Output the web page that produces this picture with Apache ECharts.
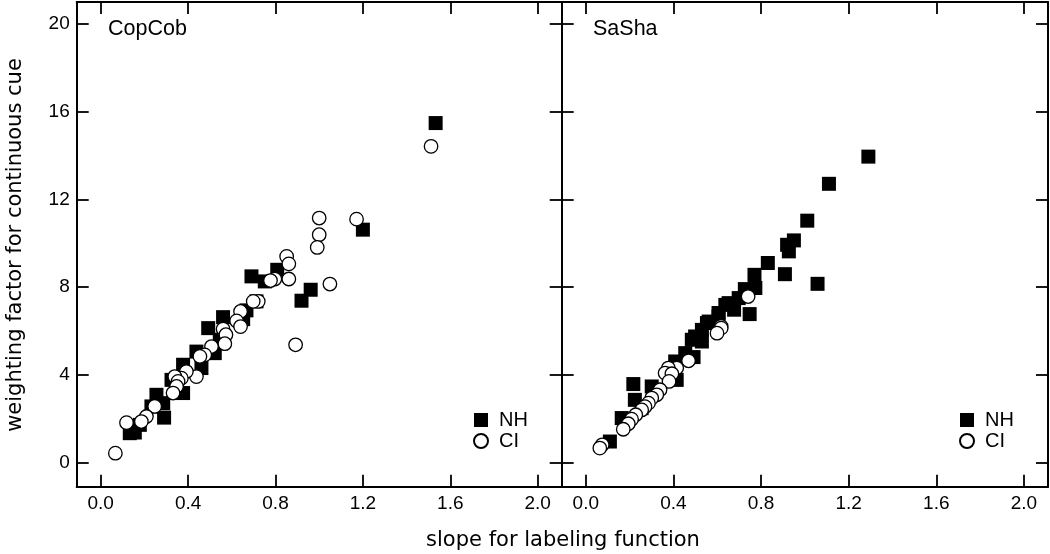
<!DOCTYPE html>
<html>
<head>
<meta charset="utf-8">
<script src="https://cdn.jsdelivr.net/npm/echarts@6/dist/echarts.min.js"></script>
<style>html,body{margin:0;padding:0;background:#fff}#c{width:1050px;height:554px}</style>
</head>
<body>
<div id="c"></div>
<script>
var xTicks = [0, 0.4, 0.8, 1.2, 1.6, 2.0];
var yTicks = [0, 4, 8, 12, 16, 20];
var panelNames = ['CopCob', 'SaSha'];
var seriesNames = ['NH', 'CI'];
var xTitle = 'slope for labeling function';
var yTitle = 'weighting factor for continuous cue';

var copcobNH = [[1.533,15.48],[1.20,10.62],[0.808,8.79],[0.69,8.49],[0.751,8.26],[0.961,7.88],[0.919,7.38],[0.713,7.35],[0.667,6.94],[0.652,6.54],[0.560,6.63],[0.492,6.13],[0.545,5.60],[0.438,5.06],[0.522,4.99],[0.461,4.31],[0.377,4.46],[0.324,3.77],[0.377,3.17],[0.255,3.09],[0.286,2.71],[0.232,2.56],[0.29,2.05],[0.179,1.72],[0.133,1.34],[0.156,1.37]];
var copcobCI = [[1.512,14.42],[1.0,11.15],[1.171,11.10],[1.0,10.39],[0.991,9.81],[0.851,9.40],[0.861,9.06],[0.797,8.37],[0.777,8.30],[0.861,8.37],[1.049,8.14],[0.721,7.35],[0.698,7.35],[0.892,5.37],[0.64,6.89],[0.622,6.46],[0.640,6.20],[0.560,6.09],[0.573,5.83],[0.568,5.42],[0.507,5.29],[0.476,4.91],[0.454,4.84],[0.438,3.92],[0.392,4.15],[0.369,3.85],[0.339,3.92],[0.354,3.70],[0.347,3.47],[0.331,3.17],[0.247,2.56],[0.209,2.10],[0.186,1.87],[0.118,1.82],[0.067,0.43]];
var sashaNH = [[1.29,13.95],[1.110,12.71],[1.011,11.03],[0.950,10.13],[0.919,9.93],[0.927,9.63],[0.831,9.10],[0.909,8.59],[1.058,8.15],[0.770,8.56],[0.774,7.96],[0.726,7.91],[0.698,7.50],[0.748,6.77],[0.637,7.19],[0.677,6.97],[0.606,6.82],[0.553,6.36],[0.652,7.27],[0.606,6.66],[0.561,6.43],[0.530,6.05],[0.499,5.75],[0.530,5.52],[0.484,5.60],[0.454,4.99],[0.492,4.81],[0.408,4.61],[0.415,3.77],[0.217,3.58],[0.301,3.47],[0.224,2.86],[0.255,2.48],[0.164,2.03],[0.110,0.96]];
var sashaCI = [[0.741,7.57],[0.618,6.21],[0.618,6.13],[0.599,5.90],[0.469,4.64],[0.415,4.31],[0.377,4.31],[0.362,4.08],[0.393,4.05],[0.380,3.70],[0.339,3.32],[0.324,3.09],[0.301,2.94],[0.286,2.71],[0.270,2.55],[0.255,2.40],[0.228,2.18],[0.209,1.98],[0.194,1.77],[0.171,1.52],[0.075,0.81],[0.064,0.66]];

var FONT = 'Liberation Sans';
var XMIN = -0.11, XMAX = 2.11, YMIN = -1.1, YMAX = 21.0;
var lineStyle = {color: '#000', width: 2};
var tickStyle = {color: '#000', width: 1.8};

function xAx(grid, pos, labels) {
  return {
    type: 'value', gridIndex: grid, position: pos, min: XMIN, max: XMAX,
    axisLine: {show: true, onZero: false, lineStyle: lineStyle},
    axisTick: {show: true, inside: true, length: 12, lineStyle: tickStyle, customValues: xTicks},
    axisLabel: {show: labels, customValues: xTicks, margin: 8, color: '#000', fontFamily: FONT, fontSize: 19,
      formatter: function (v) { return v.toFixed(1); }},
    splitLine: {show: false}
  };
}
function yAx(grid, pos, labels) {
  return {
    type: 'value', gridIndex: grid, position: pos, min: YMIN, max: YMAX,
    axisLine: {show: true, onZero: false, lineStyle: lineStyle},
    axisTick: {show: true, inside: true, length: 12, lineStyle: tickStyle, customValues: yTicks},
    axisLabel: {show: labels, customValues: yTicks, margin: 7, color: '#000', fontFamily: FONT, fontSize: 19},
    splitLine: {show: false}
  };
}
function sq(name, x, y, data) {
  return {type: 'scatter', name: name, xAxisIndex: x, yAxisIndex: y, data: data, symbol: 'rect', symbolSize: 14,
    itemStyle: {color: '#000', opacity: 1}, emphasis: {disabled: true}, z: 2};
}
function ci(name, x, y, data) {
  return {type: 'scatter', name: name, xAxisIndex: x, yAxisIndex: y, data: data, symbol: 'circle', symbolSize: 13.5,
    itemStyle: {color: '#fff', borderColor: '#000', borderWidth: 1.3, opacity: 1}, emphasis: {disabled: true}, z: 3};
}
function legend(left) {
  return {show: true, orient: 'vertical', left: left, top: 410, padding: 0, itemGap: 1, itemWidth: 14, itemHeight: 14,
    data: seriesNames, selectedMode: false,
    textStyle: {color: '#000', fontFamily: FONT, fontSize: 20, padding: [0, 0, 0, 6]}};
}

var chart = echarts.init(document.getElementById('c'), null, {renderer: 'canvas'});
chart.setOption({
  animation: false,
  backgroundColor: '#fff',
  grid: [
    {left: 76.7, right: 488.3, top: 2, bottom: 67.3},
    {left: 561.7, right: 2, top: 2, bottom: 67.3}
  ],
  xAxis: [xAx(0, 'bottom', true), xAx(0, 'top', false), xAx(1, 'bottom', true), xAx(1, 'top', false)],
  yAxis: [yAx(0, 'left', true), yAx(0, 'right', false), yAx(1, 'left', false), yAx(1, 'right', false)],
  legend: [legend(473), legend(959)],
  series: [
    sq(seriesNames[0], 0, 0, copcobNH), ci(seriesNames[1], 0, 0, copcobCI),
    sq(seriesNames[0], 2, 2, sashaNH), ci(seriesNames[1], 2, 2, sashaCI)
  ],
  graphic: [
    {type: 'text', left: 108, top: 18, style: {text: panelNames[0], font: '21.5px "Liberation Sans"', fill: '#000'}},
    {type: 'text', left: 593, top: 18, style: {text: panelNames[1], font: '21.5px "Liberation Sans"', fill: '#000'}},
    {type: 'text', x: 563, y: 541, style: {text: xTitle, font: '21px "DejaVu Sans"', fill: '#000', align: 'center', verticalAlign: 'middle'}},
    {type: 'text', x: 16, y: 245, rotation: Math.PI / 2, style: {text: yTitle, font: '21px "DejaVu Sans"', fill: '#000', align: 'center', verticalAlign: 'middle'}}
  ]
});
</script>
</body>
</html>
